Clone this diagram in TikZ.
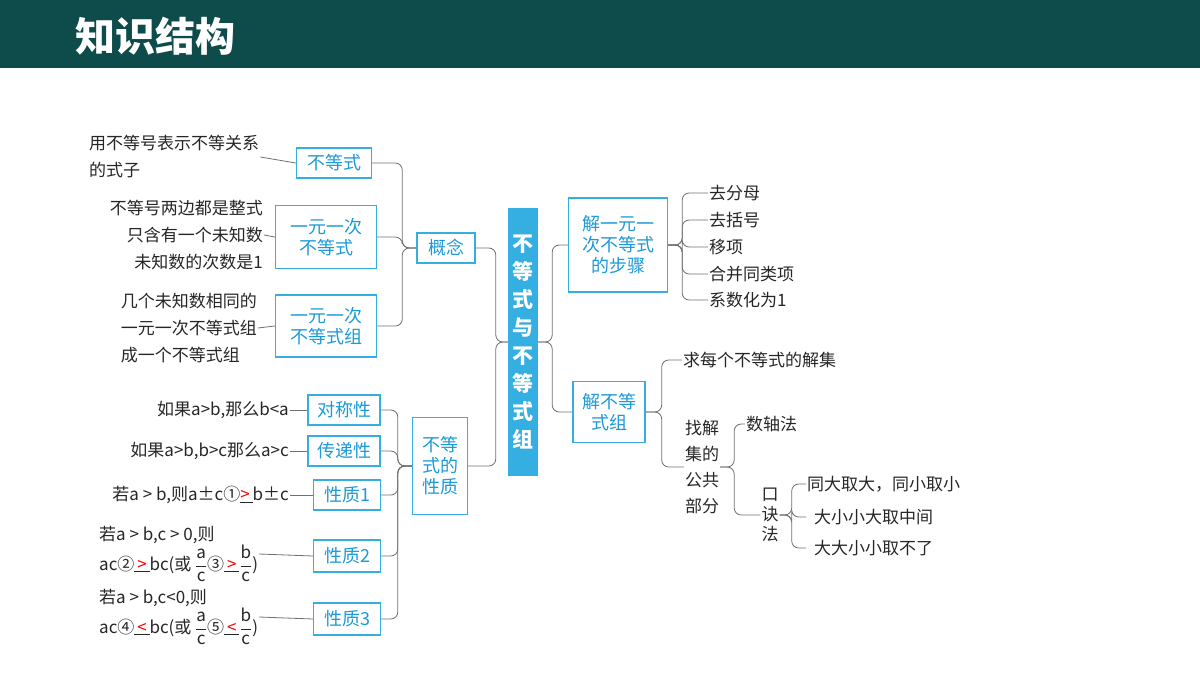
\documentclass[tikz,border=0pt]{standalone}
\usepackage{fontspec}
\setmainfont{Noto Sans CJK SC}
\usetikzlibrary{positioning}
\definecolor{bandcol}{HTML}{0E4B4B}
\definecolor{boxcol}{HTML}{35AEE2}
\definecolor{boxtext}{HTML}{1C9AD8}
\definecolor{linkcol}{HTML}{707070}
\newcommand{\fr}[2]{$\displaystyle\frac{\mathrm{#1}}{\mathrm{#2}}$}
\begin{document}
\begin{tikzpicture}[x=1pt,y=-1pt,
        box_style/.style={draw=boxcol,line width=1.4pt,fill=white,text=boxtext,font=\fontsize{18}{21}\selectfont,align=center,inner sep=2pt},
        main_style/.style={fill=boxcol,text=white,font=\fontsize{21}{28}\selectfont\bfseries,align=center,minimum width=30,minimum height=268},
        leaf_style/.style={font=\fontsize{17}{27}\selectfont,text=black!85,inner sep=1pt},
        link_style/.style={draw=linkcol,line width=0.8pt,rounded corners=7}]
        \useasboundingbox (0,0) rectangle (1200,675);
        \fill[bandcol] (0,0) rectangle (1200,68);
        \node[text=white,font=\fontsize{40}{44}\selectfont\bfseries,anchor=west] (title) at (72,36) {知识结构};

        % central node and its two sides
        \node [main_style] (root) at (523,342) {不\\等\\式\\与\\不\\等\\式\\组};
        \node [box_style,minimum width=58,minimum height=30] (gn) at (446,248) {概念};
        \node [box_style,minimum width=55,minimum height=97] (xz) at (440,466) {不等\\式的\\性质};
        \node [box_style,minimum width=99,minimum height=94] (bz) at (618,245) {解一元一\\次不等式\\的步骤};
        \node [box_style,minimum width=72,minimum height=61] (zu) at (609,412) {解不等\\式组};

        % concept branch
        \node [box_style,minimum width=75,minimum height=30] (bds) at (334,163) {不等式};
        \node [box_style,minimum width=101,minimum height=63] (yy) at (326,237) {一元一次\\不等式};
        \node [box_style,minimum width=101,minimum height=62] (yyz) at (326,326) {一元一次\\不等式组};
        \node [leaf_style,align=left,anchor=west] (t1) at (88,157) {用不等号表示不等关系\\的式子};
        \node [leaf_style,align=right,anchor=east] (t2) at (264,235) {不等号两边都是整式\\只含有一个未知数\\未知数的次数是1};
        \node [leaf_style,align=left,anchor=east] (t3) at (258,328) {几个未知数相同的\\一元一次不等式组\\成一个不等式组};

        % property branch
        \node [box_style,minimum width=72,minimum height=30] (dc) at (344,410) {对称性};
        \node [box_style,minimum width=72,minimum height=30] (cd) at (344,451) {传递性};
        \node [box_style,minimum width=67,minimum height=30] (p1) at (347,495) {性质1};
        \node [box_style,minimum width=67,minimum height=32] (p2) at (347,556) {性质2};
        \node [box_style,minimum width=67,minimum height=32] (p3) at (347,619) {性质3};
        \node [leaf_style,anchor=east] (s1) at (290,410) {如果a>b,那么b<a};
        \node [leaf_style,anchor=east] (s2) at (290,451) {如果a>b,b>c那么a>c};
        \node [leaf_style,anchor=east] (s3) at (290,495) {若a > b,则a±c①\underline{\textcolor{red}{>}\,}b±c};
        \node [leaf_style,align=left,anchor=west,font=\fontsize{17}{30}\selectfont] (s4) at (98,554) {若a > b,c > 0,则\\ac②\underline{\,\textcolor{red}{>}\,}bc(或 \fr{a}{c}③\underline{\,\textcolor{red}{>}\,}\fr{b}{c})};
        \node [leaf_style,align=left,anchor=west,font=\fontsize{17}{30}\selectfont] (s5) at (98,617) {若a > b,c<0,则\\ac④\underline{\,\textcolor{red}{<}\,}bc(或 \fr{a}{c}⑤\underline{\,\textcolor{red}{<}\,}\fr{b}{c})};

        % solving steps
        \node [leaf_style,anchor=west] (b1) at (708,193) {去分母};
        \node [leaf_style,anchor=west] (b2) at (708,220) {去括号};
        \node [leaf_style,anchor=west] (b3) at (708,247) {移项};
        \node [leaf_style,anchor=west] (b4) at (708,274) {合并同类项};
        \node [leaf_style,anchor=west] (b5) at (708,300) {系数化为1};

        % solving systems
        \node [leaf_style,anchor=west] (z1) at (682,360) {求每个不等式的解集};
        \node [leaf_style,align=left,font=\fontsize{17}{26}\selectfont] (z2) at (702,467) {找解\\集的\\公共\\部分};
        \node [leaf_style,anchor=west] (z3) at (745,424) {数轴法};
        \node [leaf_style,font=\fontsize{17}{20}\selectfont,align=center] (z4) at (770,515) {口\\诀\\法};
        \node [leaf_style,anchor=west] (k1) at (806,484) {同大取大，同小取小};
        \node [leaf_style,anchor=west] (k2) at (813,517) {大小小大取中间};
        \node [leaf_style,anchor=west] (k3) at (813,548) {大大小小取不了};

        % connectors
        \foreach \c in {gn,xz} \draw [link_style] (root.west) -- ++(-12,0) |- (\c.east);
        \foreach \c in {bz,zu} \draw [link_style] (root.east) -- ++(14,0) |- (\c.west);
        \foreach \c in {bds,yy,yyz} \draw [link_style] (gn.west) -- ++(-14,0) |- (\c.east);
        \foreach \c in {dc,cd,p1,p2,p3} \draw [link_style] (xz.west) -- ++(-14,0) |- (\c.east);
        \foreach \c in {b1,b2,b3,b4,b5} \draw [link_style] (bz.east) -- ++(14,0) |- (\c.west);
        \foreach \c in {z1,z2} \draw [link_style] (zu.east) -- ++(16,0) |- (\c.west);
        \foreach \c in {z3,z4} \draw [link_style] (z2.east) -- ++(14,0) |- (\c.west);
        \foreach \c in {k1,k2,k3} \draw [link_style] (z4.east) -- ++(12,0) |- (k1.west |- \c.west);
        \draw [link_style] (t1.east) -- (bds.west);
        \draw [link_style] (t2.east) -- (yy.west);
        \draw [link_style] (t3.east) -- (yyz.west);
        \foreach \a/\b in {s1/dc,s2/cd,s3/p1,s4/p2,s5/p3} \draw [link_style] (\a.east) -- (\b.west);
\end{tikzpicture}
\end{document}
